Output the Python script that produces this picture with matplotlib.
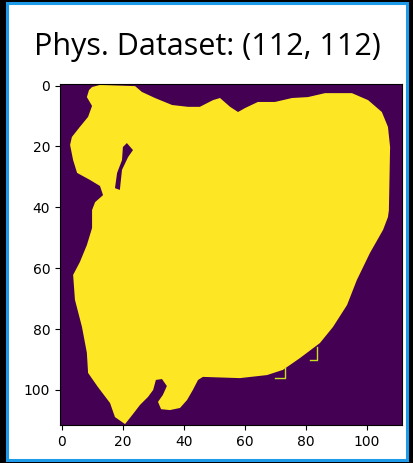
import matplotlib
matplotlib.use("Agg")
import matplotlib.pyplot as plt
from matplotlib.patches import Polygon, Rectangle

# outline of the mask (column, row), traced clockwise from the top-left
mask_x = [10.0, 12.6, 24.1, 26.3, 30.6, 36.2, 41.4, 45.3, 49.6, 51.9, 55.2, 57.8,
          60.1, 64.3, 69.9, 75.5, 80.7, 86.3, 95.1, 100.4, 104.9, 106.9, 107.6,
          107.2, 106.9, 105.3, 101.0, 96.7, 93.5, 88.9, 84.6, 78.1, 72.5, 67.3,
          58.4, 46.3, 44.7, 43.0, 41.1, 38.8, 35.5, 32.6, 31.6, 33.2, 34.5, 32.9,
          30.9, 30.0, 28.3, 25.7, 23.4, 20.8, 17.5, 15.9, 11.9, 8.7, 8.3, 6.7,
          4.4, 3.8, 6.0, 8.3, 10.0, 10.0, 11.0, 13.6, 12.6, 9.3, 5.1, 3.8, 2.8,
          3.4, 6.0, 8.7, 10.0, 8.3, 9.0]
mask_y = [0.5, -0.2, 0.2, 2.1, 4.1, 6.4, 7.0, 7.0, 4.8, 4.1, 7.0, 8.7,
          7.4, 5.4, 5.4, 4.1, 3.8, 2.5, 2.5, 4.8, 8.7, 13.6, 20.2,
          41.0, 43.2, 47.4, 55.0, 63.9, 72.1, 79.3, 84.6, 89.5, 93.4, 95.1,
          96.1, 95.7, 96.7, 100.0, 103.3, 105.9, 106.6, 106.3, 103.9, 101.6, 98.7, 96.4,
          96.7, 100.0, 102.3, 104.9, 107.9, 111.2, 108.9, 104.3, 99.0, 94.4, 87.8, 79.3,
          70.4, 62.2, 58.0, 52.4, 46.8, 40.9, 38.3, 36.0, 33.0, 31.0, 28.7, 24.5, 19.5,
          16.9, 13.6, 10.3, 6.7, 3.8, 1.5]

# dark slit inside the mask
hole_x = [21.4, 23.4, 21.8, 19.8, 19.1, 17.5, 18.2, 19.8, 20.1]
hole_y = [18.9, 21.2, 23.5, 27.7, 34.3, 33.7, 28.7, 24.5, 20.2]

# two small stray outlines near the bottom right edge
stray1_x = [73.2, 73.2, 70.0]
stray1_y = [92.8, 96.1, 96.1]
stray2_x = [83.7, 83.7, 81.4]
stray2_y = [85.9, 90.1, 90.1]

size = 112
ticks = [0, 20, 40, 60, 80, 100]
dark = "#440154"
light = "#fde725"

fig = plt.figure(figsize=(4.13, 4.63), dpi=100, facecolor="black")
fig.patches.append(Rectangle((7.5 / 413, 3 / 463), 399 / 413, 457 / 463,
                             transform=fig.transFigure, facecolor="white",
                             edgecolor="#1d9be8", linewidth=2.2, zorder=-5))

ax = fig.add_axes([60 / 413, 1 - 425 / 463, 342 / 413, 341 / 463])
ax.set_facecolor(dark)
ax.add_patch(Polygon(list(zip(mask_x, mask_y)), closed=True,
                     facecolor=light, edgecolor="none"))
ax.add_patch(Polygon(list(zip(hole_x, hole_y)), closed=True,
                     facecolor=dark, edgecolor="none"))
ax.plot(stray1_x, stray1_y, color="#c8e020", lw=1)
ax.plot(stray2_x, stray2_y, color="#c8e020", lw=1)
ax.set_xlim(-0.5, size - 0.5)
ax.set_ylim(size - 0.5, -0.5)
ax.set_xticks(ticks)
ax.set_yticks(ticks)
ax.tick_params(labelsize=10)

fig.text(0.503, 1 - 55 / 463, "Phys. Dataset: (112, 112)", ha="center",
         va="baseline", fontsize=22, family="Open Sans")

fig.savefig("out.png", dpi=100, facecolor="black")
